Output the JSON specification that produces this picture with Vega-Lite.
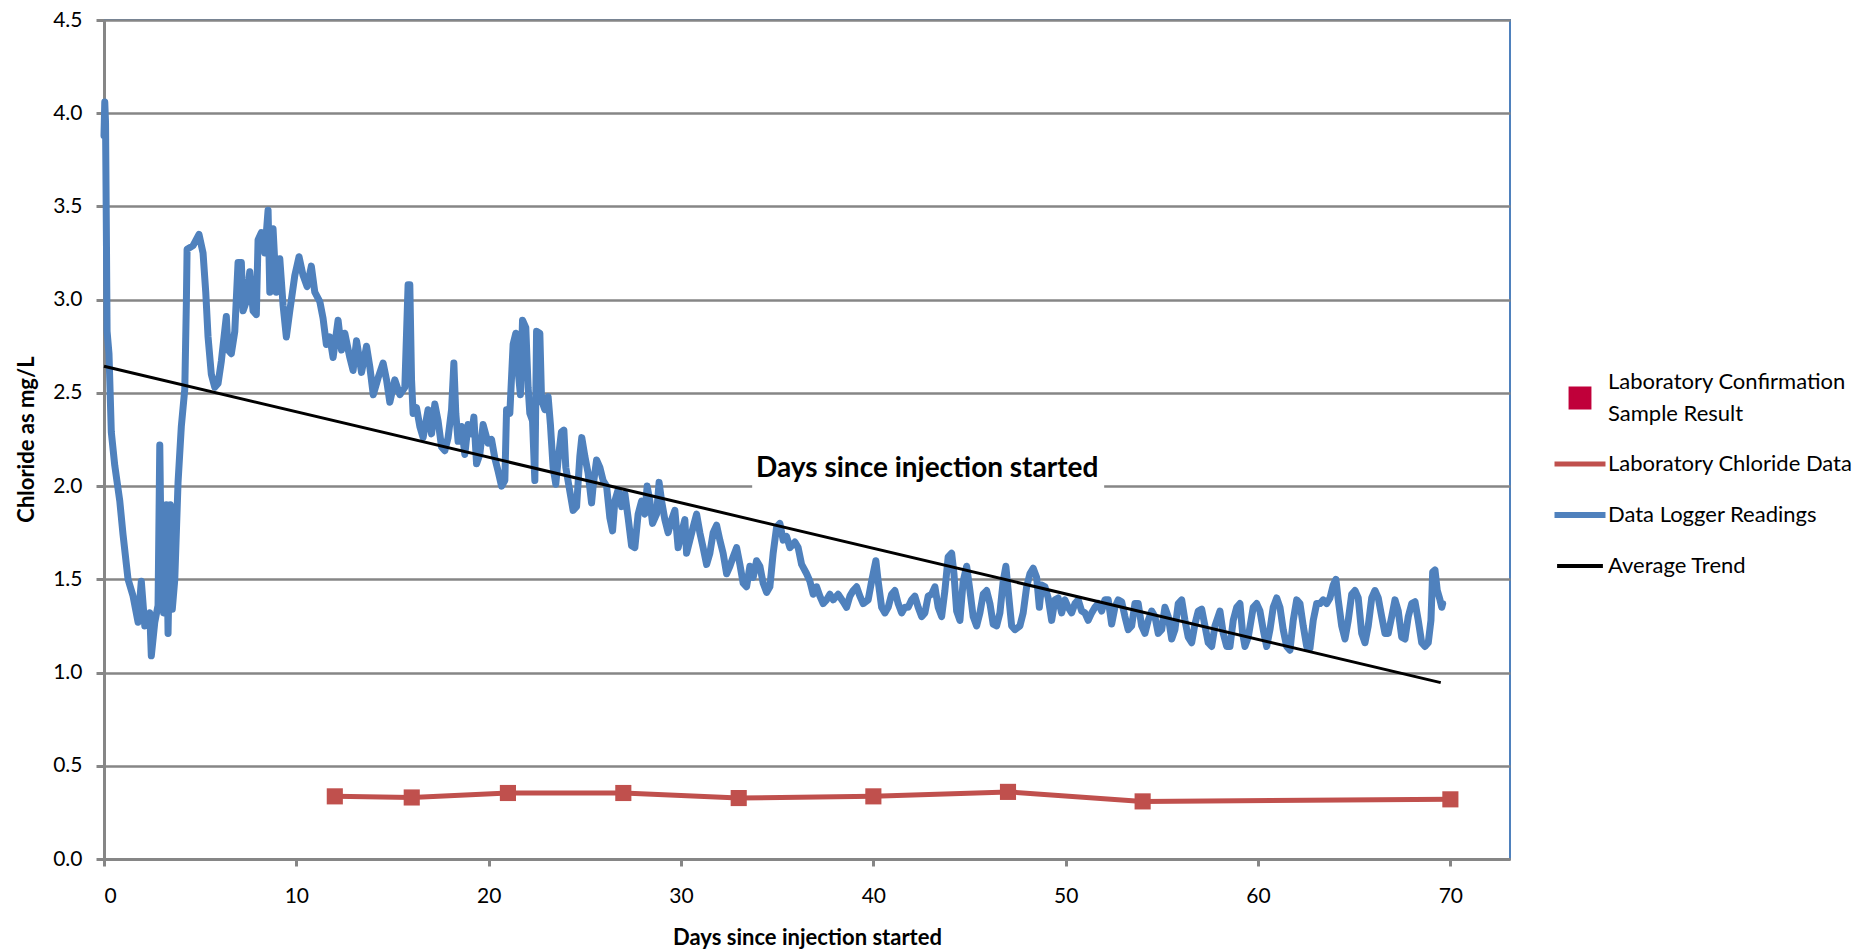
{
  "$schema": "https://vega.github.io/schema/vega-lite/v6.json",
  "width": 1406,
  "height": 839,
  "autosize": "none",
  "padding": {"left": 104, "top": 20, "right": 362, "bottom": 92},
  "background": "white",
  "config": {
    "font": "Lato",
    "view": {"stroke": "#4f81bd", "strokeWidth": 2},
    "axis": {
      "domainColor": "#868686", "domainWidth": 3,
      "tickColor": "#868686", "tickWidth": 3,
      "gridColor": "#868686", "gridWidth": 2.5, "gridOpacity": 1,
      "labelFont": "Lato", "labelFontSize": 21, "labelColor": "#000000",
      "titleFont": "Lato", "titleFontSize": 22, "titleFontWeight": "bold", "titleColor": "#000000"
    }
  },
  "datasets": {
    "logger": [
      {"d":0,"v":3.88},{"d":0.04,"v":4.06},{"d":0.08,"v":3.95},{"d":0.12,"v":3.41},{"d":0.16,"v":2.83},{"d":0.26,"v":2.71},{"d":0.38,"v":2.29},{"d":0.56,"v":2.11},{"d":0.82,"v":1.92},{"d":0.99,"v":1.74},
      {"d":1.25,"v":1.5},{"d":1.51,"v":1.41},{"d":1.77,"v":1.27},{"d":1.94,"v":1.49},{"d":2.12,"v":1.25},{"d":2.38,"v":1.32},{"d":2.46,"v":1.09},{"d":2.64,"v":1.27},{"d":2.81,"v":1.36},{"d":2.9,"v":2.22},
      {"d":2.98,"v":1.55},{"d":3.1,"v":1.32},{"d":3.24,"v":1.9},{"d":3.33,"v":1.21},{"d":3.45,"v":1.9},{"d":3.55,"v":1.34},{"d":3.68,"v":1.5},{"d":3.85,"v":2.02},{"d":4.02,"v":2.32},{"d":4.2,"v":2.52},
      {"d":4.28,"v":2.97},{"d":4.32,"v":3.27},{"d":4.63,"v":3.29},{"d":4.94,"v":3.35},{"d":5.15,"v":3.25},{"d":5.29,"v":3.04},{"d":5.41,"v":2.8},{"d":5.58,"v":2.6},{"d":5.76,"v":2.53},{"d":5.93,"v":2.55},
      {"d":6.1,"v":2.67},{"d":6.36,"v":2.91},{"d":6.45,"v":2.73},{"d":6.62,"v":2.71},{"d":6.8,"v":2.83},{"d":6.97,"v":3.2},{"d":7.14,"v":3.2},{"d":7.23,"v":2.94},{"d":7.4,"v":2.99},{"d":7.58,"v":3.15},
      {"d":7.75,"v":2.94},{"d":7.92,"v":2.92},{"d":8.01,"v":3.32},{"d":8.18,"v":3.36},{"d":8.36,"v":3.25},{"d":8.53,"v":3.48},{"d":8.62,"v":3.04},{"d":8.79,"v":3.38},{"d":8.96,"v":3.04},{"d":9.14,"v":3.22},
      {"d":9.31,"v":2.97},{"d":9.48,"v":2.8},{"d":9.66,"v":2.94},{"d":9.92,"v":3.13},{"d":10.14,"v":3.23},{"d":10.35,"v":3.13},{"d":10.56,"v":3.07},{"d":10.78,"v":3.18},{"d":10.96,"v":3.04},{"d":11.22,"v":2.99},
      {"d":11.39,"v":2.9},{"d":11.56,"v":2.76},
      {"d":11.74,"v":2.8},{"d":11.91,"v":2.69},{"d":12.17,"v":2.89},{"d":12.35,"v":2.73},{"d":12.52,"v":2.82},{"d":12.78,"v":2.69},{"d":12.95,"v":2.62},{"d":13.13,"v":2.78},{"d":13.39,"v":2.61},{"d":13.65,"v":2.75},
      {"d":13.82,"v":2.64},{"d":14.0,"v":2.49},{"d":14.25,"v":2.58},{"d":14.51,"v":2.66},{"d":14.69,"v":2.57},{"d":14.86,"v":2.45},{"d":15.12,"v":2.57},{"d":15.38,"v":2.49},{"d":15.64,"v":2.53},{"d":15.81,"v":3.08},
      {"d":15.9,"v":3.08},{"d":15.99,"v":2.57},{"d":16.07,"v":2.39},{"d":16.25,"v":2.42},{"d":16.42,"v":2.32},{"d":16.59,"v":2.26},{"d":16.85,"v":2.41},{"d":17.03,"v":2.28},{"d":17.2,"v":2.44},{"d":17.37,"v":2.35},
      {"d":17.55,"v":2.21},{"d":17.72,"v":2.19},{"d":17.89,"v":2.26},{"d":18.07,"v":2.41},{"d":18.19,"v":2.66},{"d":18.29,"v":2.39},{"d":18.41,"v":2.24},{"d":18.59,"v":2.32},{"d":18.76,"v":2.17},{"d":18.93,"v":2.33},
      {"d":19.11,"v":2.28},{"d":19.23,"v":2.37},{"d":19.37,"v":2.12},{"d":19.54,"v":2.17},{"d":19.71,"v":2.33},{"d":19.97,"v":2.23},{"d":20.15,"v":2.25},{"d":20.32,"v":2.15},{"d":20.49,"v":2.08},{"d":20.67,"v":2.0},
      {"d":20.84,"v":2.03},{"d":20.93,"v":2.41},{"d":21.1,"v":2.39},{"d":21.27,"v":2.76},{"d":21.41,"v":2.82},{"d":21.53,"v":2.62},{"d":21.65,"v":2.49},{"d":21.76,"v":2.89},{"d":21.93,"v":2.85},{"d":22.05,"v":2.53},
      {"d":22.14,"v":2.39},{"d":22.28,"v":2.35},{"d":22.4,"v":2.03},{"d":22.49,"v":2.83},{"d":22.66,"v":2.82},{"d":22.75,"v":2.46},{"d":22.92,"v":2.41},{"d":23.09,"v":2.48},{"d":23.21,"v":2.33},{"d":23.35,"v":2.1},
      {"d":23.49,"v":2.01},{"d":23.61,"v":2.14},{"d":23.78,"v":2.29},{"d":23.91,"v":2.3},{"d":24.01,"v":2.1},{"d":24.19,"v":1.99},
      {"d":24.39,"v":1.87},{"d":24.57,"v":1.89},{"d":24.74,"v":2.16},{"d":24.84,"v":2.26},{"d":25.0,"v":2.16},{"d":25.17,"v":2.07},{"d":25.35,"v":1.91},{"d":25.43,"v":2.0},{"d":25.61,"v":2.14},{"d":25.78,"v":2.1},
      {"d":25.95,"v":2.03},{"d":26.13,"v":2.0},{"d":26.3,"v":1.83},{"d":26.44,"v":1.76},{"d":26.56,"v":1.92},{"d":26.73,"v":1.98},{"d":26.91,"v":1.89},{"d":27.08,"v":1.96},{"d":27.25,"v":1.83},{"d":27.43,"v":1.68},
      {"d":27.6,"v":1.67},{"d":27.77,"v":1.85},{"d":27.95,"v":1.92},{"d":28.12,"v":1.85},{"d":28.24,"v":2.0},{"d":28.38,"v":1.92},{"d":28.52,"v":1.8},{"d":28.73,"v":1.85},{"d":28.86,"v":2.02},{"d":28.99,"v":1.92},
      {"d":29.16,"v":1.82},{"d":29.33,"v":1.75},{"d":29.51,"v":1.82},{"d":29.68,"v":1.87},{"d":29.85,"v":1.67},{"d":30.03,"v":1.75},{"d":30.2,"v":1.82},{"d":30.29,"v":1.64},{"d":30.46,"v":1.71},{"d":30.63,"v":1.78},
      {"d":30.81,"v":1.85},{"d":30.98,"v":1.75},{"d":31.15,"v":1.67},{"d":31.33,"v":1.58},{"d":31.5,"v":1.64},{"d":31.67,"v":1.75},{"d":31.85,"v":1.79},{"d":32.02,"v":1.71},{"d":32.19,"v":1.64},{"d":32.37,"v":1.53},
      {"d":32.54,"v":1.57},{"d":32.71,"v":1.62},{"d":32.89,"v":1.67},{"d":33.06,"v":1.58},{"d":33.23,"v":1.48},{"d":33.41,"v":1.46},{"d":33.58,"v":1.57},{"d":33.75,"v":1.51},{"d":33.93,"v":1.6},{"d":34.1,"v":1.57},
      {"d":34.27,"v":1.48},{"d":34.45,"v":1.43},{"d":34.62,"v":1.46},{"d":34.79,"v":1.64},{"d":34.97,"v":1.78},{"d":35.14,"v":1.8},{"d":35.31,"v":1.71},{"d":35.49,"v":1.73},
      {"d":35.66,"v":1.67},{"d":35.92,"v":1.7},{"d":36.09,"v":1.67},{"d":36.27,"v":1.58},{"d":36.53,"v":1.53},{"d":36.7,"v":1.49},{"d":36.87,"v":1.42},{"d":37.05,"v":1.46},{"d":37.22,"v":1.41},{"d":37.39,"v":1.37},
      {"d":37.57,"v":1.39},{"d":37.74,"v":1.42},{"d":37.91,"v":1.39},{"d":38.17,"v":1.42},{"d":38.43,"v":1.38},{"d":38.61,"v":1.35},{"d":38.78,"v":1.41},{"d":38.95,"v":1.44},{"d":39.13,"v":1.46},{"d":39.3,"v":1.41},
      {"d":39.47,"v":1.37},{"d":39.73,"v":1.39},{"d":39.91,"v":1.49},{"d":40.13,"v":1.6},{"d":40.25,"v":1.49},{"d":40.43,"v":1.35},{"d":40.6,"v":1.32},{"d":40.77,"v":1.35},{"d":40.95,"v":1.42},{"d":41.12,"v":1.44},
      {"d":41.29,"v":1.37},{"d":41.47,"v":1.32},{"d":41.64,"v":1.35},{"d":41.81,"v":1.35},{"d":41.99,"v":1.39},{"d":42.16,"v":1.41},{"d":42.33,"v":1.35},{"d":42.51,"v":1.3},{"d":42.68,"v":1.32},{"d":42.85,"v":1.41},
      {"d":43.03,"v":1.42},{"d":43.2,"v":1.46},{"d":43.37,"v":1.35},{"d":43.55,"v":1.3},{"d":43.72,"v":1.44},{"d":43.89,"v":1.62},{"d":44.07,"v":1.64},{"d":44.19,"v":1.53},{"d":44.33,"v":1.33},{"d":44.5,"v":1.28},
      {"d":44.67,"v":1.49},{"d":44.85,"v":1.57},{"d":45.02,"v":1.44},{"d":45.19,"v":1.3},{"d":45.37,"v":1.25},{"d":45.54,"v":1.32},{"d":45.71,"v":1.42},{"d":45.89,"v":1.44},{"d":46.06,"v":1.37},{"d":46.23,"v":1.26},
      {"d":46.41,"v":1.25},{"d":46.58,"v":1.32},{"d":46.75,"v":1.49},{"d":46.89,"v":1.57},{"d":47.01,"v":1.44},{"d":47.19,"v":1.25},{"d":47.36,"v":1.23},
      {"d":47.62,"v":1.25},{"d":47.79,"v":1.32},{"d":47.97,"v":1.46},{"d":48.14,"v":1.53},{"d":48.31,"v":1.56},{"d":48.49,"v":1.51},{"d":48.63,"v":1.35},{"d":48.75,"v":1.47},{"d":48.92,"v":1.46},{"d":49.09,"v":1.4},
      {"d":49.27,"v":1.28},{"d":49.44,"v":1.39},{"d":49.61,"v":1.4},{"d":49.79,"v":1.32},{"d":49.96,"v":1.39},{"d":50.13,"v":1.35},{"d":50.31,"v":1.32},{"d":50.48,"v":1.37},{"d":50.65,"v":1.39},{"d":50.83,"v":1.33},
      {"d":51.0,"v":1.32},{"d":51.17,"v":1.28},{"d":51.35,"v":1.32},{"d":51.52,"v":1.35},{"d":51.69,"v":1.37},{"d":51.87,"v":1.33},{"d":52.04,"v":1.39},{"d":52.21,"v":1.39},{"d":52.39,"v":1.26},{"d":52.56,"v":1.35},
      {"d":52.73,"v":1.39},{"d":52.91,"v":1.38},{"d":53.08,"v":1.3},{"d":53.25,"v":1.23},{"d":53.43,"v":1.25},{"d":53.6,"v":1.37},{"d":53.77,"v":1.37},{"d":53.95,"v":1.25},{"d":54.12,"v":1.21},{"d":54.29,"v":1.28},
      {"d":54.47,"v":1.33},{"d":54.64,"v":1.3},{"d":54.81,"v":1.21},{"d":54.99,"v":1.23},{"d":55.16,"v":1.35},{"d":55.33,"v":1.3},{"d":55.51,"v":1.18},{"d":55.68,"v":1.23},{"d":55.85,"v":1.37},{"d":56.03,"v":1.39},
      {"d":56.2,"v":1.28},{"d":56.37,"v":1.19},{"d":56.55,"v":1.16},{"d":56.72,"v":1.26},{"d":56.89,"v":1.33},{"d":57.07,"v":1.34},{"d":57.24,"v":1.25},{"d":57.41,"v":1.16},{"d":57.59,"v":1.14},{"d":57.76,"v":1.25},
      {"d":58.02,"v":1.33},{"d":58.19,"v":1.21},{"d":58.37,"v":1.14},{"d":58.54,"v":1.14},{"d":58.71,"v":1.28},{"d":58.89,"v":1.35},{"d":59.06,"v":1.37},{"d":59.2,"v":1.21},{"d":59.32,"v":1.14},{"d":59.49,"v":1.19},
      {"d":59.75,"v":1.35},{"d":59.93,"v":1.37},{"d":60.1,"v":1.33},{"d":60.27,"v":1.23},{"d":60.45,"v":1.14},{"d":60.62,"v":1.23},{"d":60.79,"v":1.35},{"d":60.97,"v":1.4},{"d":61.14,"v":1.35},{"d":61.31,"v":1.23},
      {"d":61.49,"v":1.14},{"d":61.66,"v":1.12},{"d":61.83,"v":1.28},{"d":62.01,"v":1.39},{"d":62.18,"v":1.37},{"d":62.35,"v":1.25},{"d":62.53,"v":1.14},{"d":62.7,"v":1.13},{"d":62.87,"v":1.28},{"d":63.05,"v":1.37},
      {"d":63.22,"v":1.37},{"d":63.39,"v":1.39},{"d":63.57,"v":1.37},{"d":63.74,"v":1.4},{"d":63.91,"v":1.47},{"d":64.05,"v":1.5},{"d":64.17,"v":1.39},{"d":64.35,"v":1.25},{"d":64.52,"v":1.18},{"d":64.69,"v":1.28},
      {"d":64.87,"v":1.42},{"d":65.04,"v":1.44},{"d":65.21,"v":1.4},{"d":65.39,"v":1.21},{"d":65.56,"v":1.16},{"d":65.73,"v":1.25},{"d":65.91,"v":1.4},{"d":66.08,"v":1.44},{"d":66.25,"v":1.4},{"d":66.43,"v":1.3},
      {"d":66.6,"v":1.21},{"d":66.77,"v":1.21},{"d":66.95,"v":1.3},{"d":67.12,"v":1.39},{"d":67.29,"v":1.33},{"d":67.47,"v":1.19},{"d":67.64,"v":1.18},{"d":67.81,"v":1.3},{"d":67.99,"v":1.37},{"d":68.16,"v":1.38},
      {"d":68.33,"v":1.28},{"d":68.51,"v":1.16},{"d":68.68,"v":1.14},{"d":68.85,"v":1.16},{"d":68.99,"v":1.28},{"d":69.08,"v":1.54},{"d":69.2,"v":1.55},{"d":69.32,"v":1.44},{"d":69.46,"v":1.39},{"d":69.55,"v":1.35},
      {"d":69.6,"v":1.37}
    ],
    "lab": [
      {"d":12,"v":0.336},{"d":16,"v":0.33},{"d":21,"v":0.354},{"d":27,"v":0.354},{"d":33,"v":0.327},{"d":40,"v":0.336},{"d":47,"v":0.36},{"d":54,"v":0.309},{"d":70,"v":0.32}
    ],
    "trend": [{"d":0,"v":2.643},{"d":69.5,"v":0.946}],
    "note": [{"d":42.8,"v":2.09,"d1":33.7,"d2":52.0,"v1":1.985,"v2":2.19,"t":"Days since injection started"}]
  },
  "encoding": {
    "x": {"field": "d", "type": "quantitative",
      "scale": {"domain": [0, 73.1], "nice": false, "zero": false},
      "axis": {"title": "Days since injection started", "values": [0,10,20,30,40,50,60,70], "grid": false,
        "tickSize": 7, "labelPadding": 19, "titleY": 78, "titleBaseline": "middle"}},
    "y": {"field": "v", "type": "quantitative",
      "scale": {"domain": [0, 4.5], "nice": false},
      "axis": {"title": "Chloride as mg/L", "values": [0,0.5,1,1.5,2,2.5,3,3.5,4,4.5], "format": ".1f",
        "tickSize": 8, "labelPadding": 14, "titleX": -78, "titleY": 419, "titleAngle": 270, "titleBaseline": "middle", "titleAlign": "center"}}
  },
  "layer": [
    {
      "data": {"name": "note"},
      "mark": {"type": "rect", "color": "white"},
      "encoding": {
        "x": {"field": "d1", "type": "quantitative"}, "x2": {"field": "d2"},
        "y": {"field": "v1", "type": "quantitative"}, "y2": {"field": "v2"}
      }
    },
    {
      "data": {"name": "logger"},
      "mark": {"type": "line", "strokeWidth": 7, "strokeJoin": "round", "strokeCap": "round"},
      "encoding": {
        "color": {"datum": "Data Logger Readings", "type": "nominal",
          "scale": {"domain": ["Laboratory Confirmation Sample Result", "Laboratory Chloride Data", "Data Logger Readings", "Average Trend"],
                    "range": ["#c0003a", "#c0504d", "#4f81bd", "#000000"]},
          "legend": {
            "orient": "none", "legendX": 1465, "legendY": 367, "title": null, "padding": 0,
            "symbolType": "stroke", "symbolSize": 2800, "symbolStrokeWidth": 5,
            "labelFont": "Lato", "labelFontSize": 22, "labelColor": "#000000", "labelOffset": 17, "labelLimit": 400,
            "rowPadding": 28,
            "labelExpr": "datum.label == 'Laboratory Confirmation Sample Result' ? ['Laboratory Confirmation', 'Sample Result'] : datum.label",
            "encode": {
              "labels": {"update": {
                "lineHeight": {"value": 32},
                "dy": {"signal": "datum.value == 'Laboratory Confirmation Sample Result' ? -16 : 0"}
              }},
              "symbols": {"update": {
                "shape": {"signal": "datum.value == 'Laboratory Confirmation Sample Result' ? 'square' : 'stroke'"},
                "size": {"signal": "datum.value == 'Laboratory Confirmation Sample Result' ? 320 : datum.value == 'Average Trend' ? 2100 : 2600"},
                "fill": {"signal": "datum.value == 'Laboratory Confirmation Sample Result' ? '#c0003a' : 'transparent'"},
                "stroke": {"signal": "datum.value == 'Laboratory Confirmation Sample Result' ? 'transparent' : datum.value == 'Laboratory Chloride Data' ? '#c0504d' : datum.value == 'Data Logger Readings' ? '#4f81bd' : '#000000'"},
                "strokeWidth": {"signal": "datum.value == 'Data Logger Readings' ? 6 : datum.value == 'Average Trend' ? 4 : 5"},
                "opacity": {"value": 1}
              }}
            }
          }
        }
      }
    },
    {
      "data": {"name": "lab"},
      "mark": {"type": "line", "strokeWidth": 5},
      "encoding": {"color": {"datum": "Laboratory Chloride Data", "type": "nominal"}}
    },
    {
      "data": {"name": "lab"},
      "mark": {"type": "point", "shape": "square", "filled": true, "size": 260, "color": "#c0504d", "opacity": 1}
    },
    {
      "data": {"name": "trend"},
      "mark": {"type": "line", "strokeWidth": 3},
      "encoding": {"color": {"datum": "Average Trend", "type": "nominal"}}
    },
    {
      "data": {"name": "note"},
      "mark": {"type": "text", "font": "Lato", "fontSize": 28, "fontWeight": "bold", "color": "#000000", "align": "center", "baseline": "middle"},
      "encoding": {"text": {"field": "t"}}
    }
  ]
}
